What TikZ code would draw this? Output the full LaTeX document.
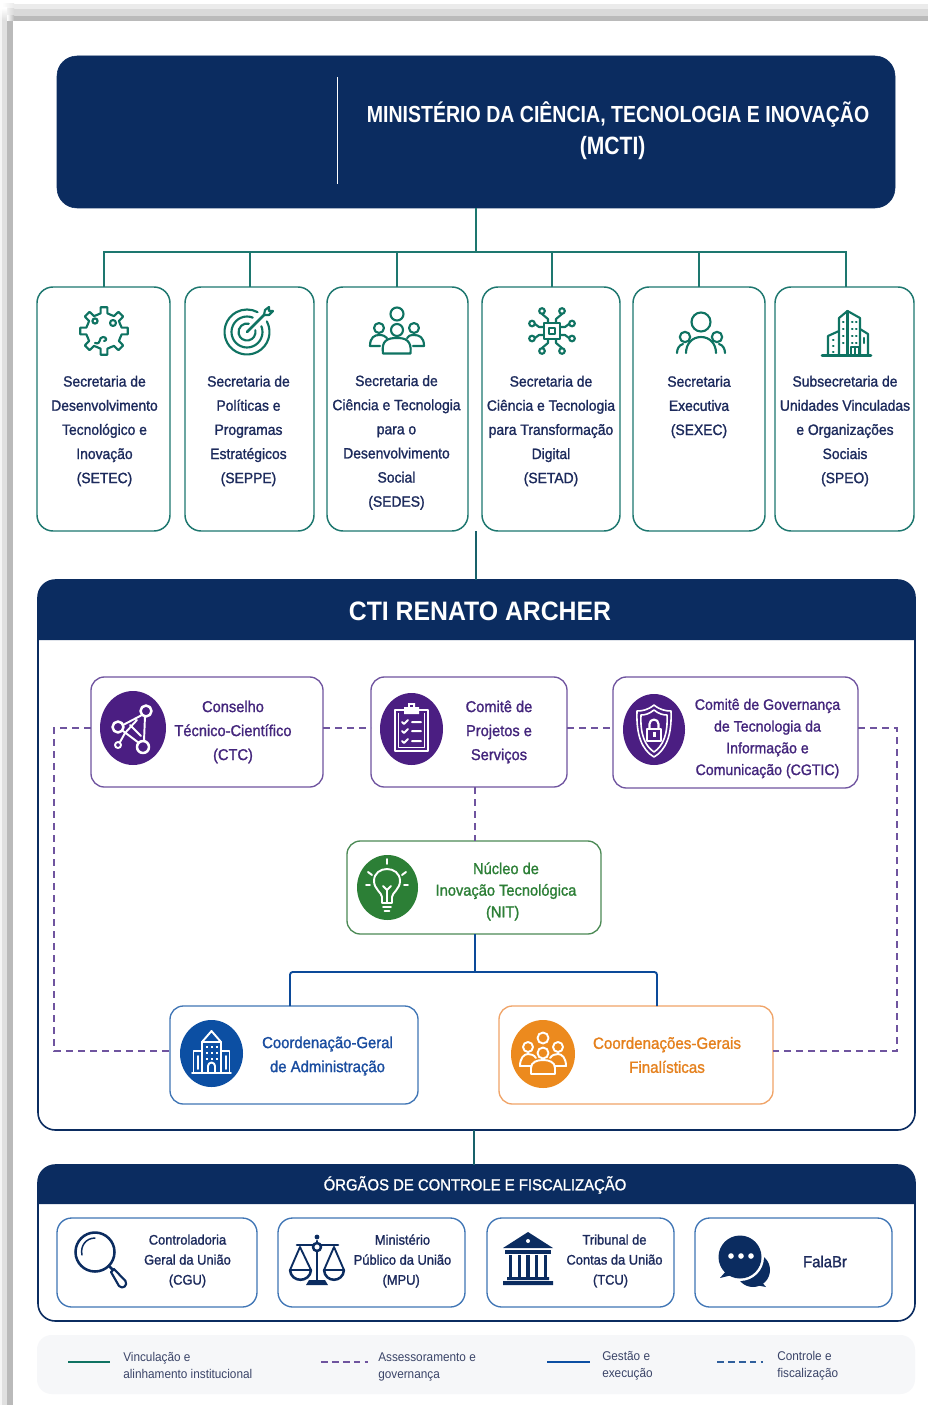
\documentclass[tikz,border=0pt]{standalone}
\usepackage{fontspec}
\setmainfont{Liberation Sans}
\newfontfamily\nrw[FakeStretch=0.93,FakeBold=1.3]{Liberation Sans}
\newfontfamily\lgf[FakeStretch=0.93]{Liberation Sans}
\newfontfamily\hdr[FakeStretch=0.84]{Liberation Sans}
\newfontfamily\ttl[FakeStretch=0.93]{Liberation Sans}
\usetikzlibrary{calc}
\definecolor{navy}{HTML}{0B2C60}
\definecolor{navyink}{HTML}{1C2A5C}
\definecolor{tealln}{HTML}{1D776F}
\definecolor{tealic}{HTML}{0F7362}
\definecolor{pur}{HTML}{4B1E82}
\definecolor{purbd}{HTML}{6F549F}
\definecolor{purtx}{HTML}{43257C}
\definecolor{grn}{HTML}{2C7F36}
\definecolor{grnbd}{HTML}{4C8A55}
\definecolor{blu}{HTML}{0C4FA3}
\definecolor{blubd}{HTML}{3F75B5}
\definecolor{blutx}{HTML}{1A4DA0}
\definecolor{org}{HTML}{EC8A1E}
\definecolor{orgbd}{HTML}{F0A468}
\definecolor{orgtx}{HTML}{E5801C}
\definecolor{leg}{HTML}{F6F7F9}
\definecolor{legtx}{HTML}{3A4468}
\tikzset{
  box/.style={draw,rounded corners=#1,inner sep=0pt,outer sep=0pt},
  box/.default=12pt,
  sec/.style={box=12pt,draw=tealln,line width=1.1pt},
  purbox/.style={box=10pt,draw=purbd,line width=1pt},
  grnbox/.style={box=10pt,draw=grnbd,line width=1pt},
  blubox/.style={box=10pt,draw=blubd,line width=1pt},
  orgbox/.style={box=10pt,draw=orgbd,line width=1pt},
  panel/.style={box=13pt,draw=navy,line width=1.2pt},
  ctlbox/.style={box=11pt,draw=blubd,line width=1pt},
  teal line/.style={draw=tealln,line width=1.5pt},
  dash line/.style={draw=purbd,line width=.8pt,dash pattern=on 5pt off 4pt},
  blue line/.style={draw=blu!85!navy,line width=1.4pt,rounded corners=2pt},
  sectx/.style={align=center,text=navyink,inner sep=0pt,font=\nrw\fontsize{11.2}{18.1}\selectfont},
  purtext/.style={align=center,text=purtx,inner sep=0pt,font=\nrw\fontsize{11.8}{18}\selectfont},
  cg/.style={align=center,text=purtx,inner sep=0pt,font=\nrw\fontsize{11.4}{16.3}\selectfont},
  grntext/.style={align=center,text=grn,inner sep=0pt,font=\nrw\fontsize{11.8}{16.2}\selectfont},
  blutext/.style={align=center,text=blutx,inner sep=0pt,font=\nrw\fontsize{12}{18}\selectfont},
  orgtext/.style={align=center,text=orgtx,inner sep=0pt,font=\nrw\fontsize{12.2}{18}\selectfont},
  ctltx/.style={align=center,text=navyink,inner sep=0pt,font=\nrw\fontsize{10.4}{15}\selectfont},
  legtext/.style={align=left,anchor=west,text=legtx,inner sep=0pt,font=\lgf\fontsize{9.5}{12.8}\selectfont},
  ti/.style={draw=tealic,line width=1.6pt,line cap=round,line join=round},
  wi/.style={draw=white,line width=1.45pt,line cap=round,line join=round},
  ni/.style={draw=navy,line width=1.9pt,line cap=round,line join=round},
}
\newcommand{\bx}[6]{\node[#6,minimum width={(#4-#2)*0.75pt},minimum height={(#5-#3)*0.75pt}] (#1) at ({(#2+#4)/2},{(#3+#5)/2}) {};}
\newcommand{\tx}[5]{\node[#4] (#1) at (#2,#3) {#5};}
\newcommand{\disc}[6]{\fill[#6] (#2,#3) ellipse [x radius=#4,y radius=#5]; \coordinate (#1) at (#2,#3);}
\begin{document}
\begin{tikzpicture}[x=0.75pt,y=-0.75pt]
\useasboundingbox (0,0) rectangle (928,1405);
\fill[white] (0,0) rectangle (928,1405);
% page shadow
\fill[black!8] (14,4) rectangle (928,9);
\fill[black!15] (14,9) rectangle (928,16);
\fill[black!27] (14,16) rectangle (928,21.5);
\shade[left color=white,right color=black!8] (2,4) rectangle (14,9);
\shade[left color=white,right color=black!15] (2,9) rectangle (14,16);
\shade[left color=white,right color=black!27] (7,16) rectangle (14,21.5);
\shade[top color=white,bottom color=black!4] (0,8) rectangle (2,20);
\fill[black!4] (0,20) rectangle (2,1405);
\shade[top color=white,bottom color=black!12] (2,8) rectangle (7,20);
\fill[black!12] (2,20) rectangle (7,1405);
\fill[black!27] (7,21.5) rectangle (13,1405);
\fill[white] (13,21.5) rectangle (928,1405);
% header
\bx{mcti}{57}{56}{895}{208}{box=15pt,fill=navy,draw=navy}
\draw[white,line width=1.1pt] (337.5,77) coordinate (sepa) -- (337.5,184) coordinate (sepb);
\tx{mctit}{618}{131}{align=center,text=white,inner sep=0pt,font=\hdr\bfseries\fontsize{17.45}{24}\selectfont}{MINISTÉRIO DA CIÊNCIA, TECNOLOGIA E INOVAÇÃO\\{\fontsize{18.8}{24}\selectfont (MCTI)}\hspace{8pt}\null}
% secretarias
\bx{s1}{37}{287}{170}{531}{sec}
\bx{s2}{185}{287}{314}{531}{sec}
\bx{s3}{327}{287}{468}{531}{sec}
\bx{s4}{482}{287}{620}{531}{sec}
\bx{s5}{633}{287}{765}{531}{sec}
\bx{s6}{775}{287}{914}{531}{sec}
\coordinate (bar) at (476,252);
\draw[teal line] (mcti.south) -- (bar);
\foreach \s/\d in {s1/.5,s2/.5,s3/-.5,s4/1,s5/0,s6/1.5} \draw[teal line] ($(\s.north)+(\d,0)$) |- (bar);
\tx{t1}{104.5}{431}{sectx}{Secretaria de\\Desenvolvimento\\Tecnológico e\\Inovação\\(SETEC)}
\tx{t2}{248.5}{431}{sectx}{Secretaria de\\Políticas e\\Programas\\Estratégicos\\(SEPPE)}
\tx{t3}{396.5}{442.5}{sectx}{Secretaria de\\Ciência e Tecnologia\\para o\\Desenvolvimento\\Social\\(SEDES)}
\tx{t4}{551}{431}{sectx}{Secretaria de\\Ciência e Tecnologia\\para Transformação\\Digital\\(SETAD)}
\tx{t5}{699}{407}{sectx}{Secretaria\\Executiva\\(SEXEC)}
\tx{t6}{845}{431}{sectx}{Subsecretaria de\\Unidades Vinculadas\\e Organizações\\Sociais\\(SPEO)}
% --- gear
\begin{scope}[shift={(104,331)},ti]
\foreach \a in {0,45,...,315}{
 \draw (\a-22.5:17.5) -- (\a-11:18) -- (\a-8:24) -- (\a+8:24) -- (\a+11:18) -- (\a+22.5:17.5);}
\draw (-9,-10) circle [radius=2.6] (9,-8) circle [radius=3];
\draw (-9,12) .. controls (-2,14) and (-6,6) .. (-1,6) .. controls (3,6) and (3,10) .. (0,10);
\end{scope}
% --- target
\begin{scope}[shift={(247,332)},ti]
\draw (-28:22.5) arc [start angle=-28,end angle=298,radius=22.5];
\draw (-22:15.5) arc [start angle=-22,end angle=292,radius=15.5];
\draw (-12:8.5) arc [start angle=-12,end angle=282,radius=8.5];
\draw[line width=1.9pt] (0,0) -- (17,-17);
\draw (17,-17) -- (18,-22) -- (22,-25) -- (22,-21) -- (26,-21) -- (22,-17) -- cycle;
\end{scope}
% --- SEDES group
\begin{scope}[ti]
\draw (397,314) circle [radius=6.5];
\draw (379,328) circle [radius=5] (414,328) circle [radius=5] (397,330) circle [radius=6];
\draw (383,353.5) -- (410.5,353.5) .. controls (412,340) and (405,338) .. (397,338) .. controls (388,338) and (381,340) .. (383,353.5);
\draw (380,346) -- (370,346) .. controls (370,337) and (375,335) .. (379,335) .. controls (383,335) and (385,336) .. (387,338);
\draw (413,346) -- (424,346) .. controls (424,337) and (419,335) .. (414,335) .. controls (410,335) and (408,336) .. (407,338);
\end{scope}
% --- chip
\begin{scope}[shift={(552,331)},ti]
\draw (-8,-8) rectangle (8,8);
\draw[line width=1.9pt] (-3,-3) rectangle (3,3);
\foreach \sx/\sy in {1/1,-1/1,1/-1,-1/-1}{
 \draw (\sx*4,\sy*8) -- (\sx*4,\sy*12) -- (\sx*10,\sy*17);
 \draw (\sx*10,\sy*20) circle [radius=2.8];
 \draw (\sx*8,\sy*4) -- (\sx*13,\sy*4) -- (\sx*17,\sy*7);
 \draw (\sx*20,\sy*7.5) circle [radius=2.8];}
\end{scope}
% --- SEXEC people
\begin{scope}[ti]
\draw (701,322) circle [radius=9.5];
\draw (685,337) circle [radius=5.2] (717,337) circle [radius=5.2];
\draw (686,353) .. controls (686,344) and (692,337) .. (701,337) .. controls (710,337) and (716,344) .. (716,353);
\draw (677,353) .. controls (677,349) and (679,345) .. (683,344);
\draw (725,353) .. controls (725,349) and (723,345) .. (719,344);
\end{scope}
% --- SPEO building
\begin{scope}[ti]
\draw[line width=1.9pt] (822,355.5) -- (871,355.5);
\draw (839,355) -- (839,318) -- (847.5,311) -- (860,318) -- (860,355);
\draw (847.5,311) -- (847.5,355);
\draw (839,331) -- (828,336) -- (828,355);
\draw (860,329) -- (868,334) -- (868,355);
\foreach \y in {322,329,336,343}{\draw (843,\y) -- (843.6,\y) (852,\y) -- (852.6,\y) (856,\y) -- (856.6,\y);}
\foreach \y in {340,346,352}{\draw (833,\y) -- (833.6,\y);}
\draw (851,355) -- (851,347) -- (859,347) -- (859,355) (855,347) -- (855,355);
\draw (864,338) -- (864,343);
\end{scope}
% CTI panel
\coordinate (rowb) at (476,531);
\bx{cti}{38}{580}{915}{1130}{panel}
\draw[teal line,draw=tealln!70!navy] (rowb) -- (rowb |- cti.north);
\fill[navy] (38,640) -- (38,597) arc [start angle=180,end angle=270,radius=17] -- (898,580) arc [start angle=270,end angle=360,radius=17] -- (915,640) -- cycle;
\tx{ctit}{480}{611}{text=white,inner sep=0pt,font=\ttl\bfseries\fontsize{20}{24}\selectfont}{CTI RENATO ARCHER}
% purple
\bx{ctc}{91}{677}{323}{787}{purbox}
\bx{cps}{371}{677}{567}{787}{purbox}
\bx{cgt}{613}{677}{858}{788}{purbox}
\disc{d1}{133}{728}{33}{37}{pur}
\disc{d2}{411.5}{729}{31.5}{36}{pur}
\disc{d3}{654}{729.5}{31}{35.5}{pur}
\tx{tc1}{233}{732}{purtext}{Conselho\hspace{10pt}\\Técnico-Científico\\(CTC)}
\tx{tc2}{499}{732}{purtext}{Comitê de\\Projetos e\\Serviços}
\tx{tc3}{767.5}{738.5}{cg}{Comitê de Governança\\de Tecnologia da\\Informação e\\Comunicação (CGTIC)}
% network icon
\begin{scope}[wi]
\draw[line width=1.9pt] (146,711) circle [radius=5.5] (118,727) circle [radius=5.5] (143,747) circle [radius=6];
\draw (118,745) circle [radius=3];
\draw (123,725) -- (142,715) (123,731) -- (139,743) (145,716) -- (144,741) (120,742) -- (125,733) (125,733) -- (137,720) (130,725) -- (141,736);
\end{scope}
% clipboard icon
\begin{scope}[wi]
\draw (404,710) -- (395,710) -- (395,751) -- (428,751) -- (428,710) -- (419,710);
\draw[line width=.9pt] (398.5,713.5) -- (398.5,747.5) -- (424.5,747.5) -- (424.5,713.5);
\fill[white] (404,707) -- (408,707) -- (408,703) -- (415,703) -- (415,707) -- (419,707) -- (419,714) -- (404,714) -- cycle;
\fill[pur] (410,704.5) rectangle (413,707);
\foreach \y in {722,731,741}{\draw[line width=1.5pt] (402,\y) -- (404,\y+2) -- (408,\y-2) (412,\y) -- (421,\y);}
\end{scope}
% shield icon
\begin{scope}[wi]
\draw[line width=1.2pt] (654,705) .. controls (660,710) and (666,711) .. (671,711) .. controls (672,735) and (666,750) .. (654,757) .. controls (642,750) and (636,735) .. (637,711) .. controls (642,711) and (648,710) .. (654,705) -- cycle;
\draw[line width=1.2pt] (654,710) .. controls (659,714) and (663,715) .. (667,715) .. controls (668,734) and (663,746) .. (654,752) .. controls (645,746) and (640,734) .. (641,715) .. controls (645,715) and (649,714) .. (654,710) -- cycle;
\draw[line width=1.6pt] (647,729) rectangle (661,741);
\draw[line width=1.6pt] (649.5,729) -- (649.5,724) arc [start angle=180,end angle=360,radius=4.5] -- (658.5,729);
\fill[white] (652.5,732) rectangle (655.5,737);
\end{scope}
% NIT
\bx{nit}{347}{841}{601}{934}{grnbox}
\disc{d4}{387.5}{887.5}{30.5}{32.5}{grn}
\tx{tn}{506}{891.5}{grntext}{Núcleo de\hspace{5pt}\\Inovação Tecnológica\\(NIT)\hspace{5pt}\null}
\begin{scope}[wi]
\draw (382,903) -- (382,897) .. controls (382,893) and (374,889) .. (374,881) .. controls (374,865) and (400,865) .. (400,881) .. controls (400,889) and (392,893) .. (392,897) -- (392,903) -- cycle;
\draw (383,907) -- (391,907) (384.5,911) -- (389.5,911);
\draw (387,902) -- (387,890) (383,886) -- (387,890) -- (391,886);
\draw (387,864) -- (387,859) (368,872) -- (372,875) (406,872) -- (402,875) (366,885) -- (370,885) (404,885) -- (408,885);
\end{scope}
% coordinations
\bx{adm}{170}{1006}{418}{1104}{blubox}
\bx{fin}{499}{1006}{773}{1104}{orgbox}
\coordinate (bl) at (475,972);
\draw[dash line] (475,787) coordinate (c0) -- (475,841) coordinate (c1);
\draw[blue line] (c1 |- nit.south) -- (bl);
\draw[blue line] (adm.north -| 290,0) |- (bl);
\draw[blue line] (fin.north -| 657,0) |- (bl);
\disc{d5}{211.5}{1053.5}{31.5}{33.5}{blu}
\disc{d6}{543}{1054}{32}{34}{org}
\tx{ta}{327.5}{1056}{blutext}{Coordenação-Geral\\de Administração}
\tx{tf}{667}{1055}{orgtext}{Coordenações-Gerais\\Finalísticas}
% building white
\begin{scope}[wi]
\draw (192,1073) -- (231,1073);
\draw (202,1072) -- (202,1042) -- (211.5,1031) -- (221,1042) -- (221,1072);
\draw (202,1042) -- (221,1042);
\draw (202,1051) -- (193.5,1051) -- (193.5,1072) (221,1051) -- (229.5,1051) -- (229.5,1072);
\foreach \x in {207,212,217}{\foreach \y in {1047,1053,1059}{\fill[white] (\x-1.4,\y-1.4) rectangle (\x+1.4,\y+1.4);}}
\draw (198,1056) -- (198,1069) (226,1056) -- (226,1069);
\draw (208,1072) -- (208,1066) arc [start angle=180,end angle=360,radius=3.5] -- (215,1072);
\end{scope}
% group white
\begin{scope}[wi]
\draw (543,1038) circle [radius=5.5] (528,1047) circle [radius=5] (558,1047) circle [radius=5] (543,1053) circle [radius=5.5];
\draw (531,1074) -- (555,1074) -- (555,1068) .. controls (555,1062) and (549,1060) .. (543,1060) .. controls (537,1060) and (531,1062) .. (531,1068) -- cycle;
\draw (531,1066) -- (520,1066) .. controls (520,1058) and (524,1054) .. (528,1054) .. controls (531,1054) and (534,1055) .. (536,1058);
\draw (555,1066) -- (566,1066) .. controls (566,1058) and (562,1054) .. (558,1054) .. controls (555,1054) and (552,1055) .. (550,1058);
\end{scope}
% dashed advisory lines
\coordinate (dl) at (54,728);
\coordinate (dr) at (897,728);
\coordinate (dlb) at (54,1051);
\coordinate (drb) at (897,1051);
\draw[dash line] (ctc.east |- dl) -- (cps.west |- dl);
\draw[dash line] (cps.east |- dl) -- (cgt.west |- dl);
\draw[dash line] (ctc.west |- dl) -- (dl) -- (dlb) -- (adm.west |- dlb);
\draw[dash line] (cgt.east |- dr) -- (dr) -- (drb) -- (fin.east |- drb);
% Control panel
\bx{org}{38}{1165}{915}{1321}{panel}
\draw[teal line,draw=tealln!70!navy] (474,1130) coordinate (cc) -- (cc |- org.north);
\fill[navy] (38,1204) -- (38,1182) arc [start angle=180,end angle=270,radius=17] -- (898,1165) arc [start angle=270,end angle=360,radius=17] -- (915,1204) -- cycle;
\tx{ort}{475}{1185}{text=white,inner sep=0pt,font=\nrw\fontsize{12}{16}\selectfont}{ÓRGÃOS DE CONTROLE E FISCALIZAÇÃO}
\bx{c1b}{57}{1218}{257}{1307}{ctlbox}
\bx{c2b}{278}{1218}{465}{1307}{ctlbox}
\bx{c3b}{487}{1218}{674}{1307}{ctlbox}
\bx{c4b}{695}{1218}{892}{1307}{ctlbox}
\tx{tcg}{187.5}{1261}{ctltx}{Controladoria\\Geral da União\\(CGU)}
\tx{tmp}{402.5}{1261}{ctltx}{Ministério\hspace{11pt}\\Público da União\\(MPU)\hspace{2pt}\null}
\tx{ttc}{614.5}{1261}{ctltx}{Tribunal de\hspace{7pt}\\Contas da União\\(TCU)\hspace{6pt}\null}
\tx{tfb}{825}{1261.5}{ctltx,font=\nrw\fontsize{12}{15}\selectfont}{FalaBr}
% magnifier
\begin{scope}[ni]
\draw (95,1252) circle [radius=19.5];
\draw[line width=1.1pt] (82,1255) .. controls (80,1246) and (86,1238) .. (95,1238);
\draw (109,1266) -- (113,1270);
\draw[line width=1.6pt] (111,1272) -- (114,1269) -- (125.5,1281) .. controls (128,1285) and (123,1290) .. (119,1286) -- cycle;
\end{scope}
% scales
\begin{scope}[ni]
\draw (317,1241) -- (317,1282);
\fill[navy] (317,1237) circle [radius=2.4];
\fill[white] (317,1247) circle [radius=4];
\draw (317,1247) circle [radius=4];
\draw (297,1245) -- (313,1245) (321,1245) -- (338,1245);
\draw[line width=1.4pt] (300,1247) -- (290,1270) -- (311,1270) -- cycle;
\draw[line width=1.4pt] (334,1247) -- (324,1270) -- (344,1270) -- cycle;
\draw (290,1270) .. controls (291,1283) and (310,1283) .. (311,1270);
\draw (324,1270) .. controls (325,1283) and (343,1283) .. (344,1270);
\fill[navy] (306,1285) -- (309,1280) -- (325,1280) -- (328,1285) -- cycle;
\end{scope}
% temple
\begin{scope}
\fill[navy] (528,1232) -- (553,1248) -- (503,1248) -- cycle;
\fill[white] (528,1241) circle [radius=2];
\fill[navy] (505,1250) rectangle (551,1254);
\fill[navy] (503,1281) rectangle (553,1285) (507,1277) rectangle (549,1280);
\foreach \x in {508.5,517.5,526.3,535,544}{\fill[navy] (\x,1255) rectangle (\x+3.4,1277);}
\end{scope}
% chat
\begin{scope}
\fill[navy] (753,1270) circle [radius=17];
\fill[navy] (760,1280) -- (766,1287) -- (750,1284) -- cycle;
\fill[white] (740,1257) circle [radius=24];
\fill[navy] (740,1257) circle [radius=21.5];
\fill[navy] (727,1270) -- (720,1278) -- (736,1274) -- cycle;
\foreach \x in {731,741,751}{\fill[white] (\x,1256) circle [radius=2.8];}
\end{scope}
% legend
\bx{lg}{37}{1335}{915}{1394}{box=11pt,fill=leg,draw=none}
\coordinate (la) at (68,1362); \coordinate (lb) at (110,1362);
\coordinate (lc) at (321,1362); \coordinate (ld) at (368,1362);
\coordinate (le) at (547,1362); \coordinate (lf) at (590,1362);
\coordinate (lg1) at (717,1362); \coordinate (lh) at (763,1362);
\draw[tealic,line width=1.6pt] (la) -- (lb);
\draw[purbd,line width=1pt,dash pattern=on 5pt off 3.2pt] (lc) -- (ld);
\draw[blu,line width=1.6pt] (le) -- (lf);
\draw[blubd!70!navy,line width=1pt,dash pattern=on 5pt off 3.2pt] (lg1) -- (lh);
\tx{l1}{123}{1365.5}{legtext}{Vinculação e\\alinhamento institucional}
\tx{l2}{378}{1367}{legtext}{Assessoramento e\\governança}
\tx{l3}{602}{1366}{legtext}{Gestão e\\execução}
\tx{l4}{777}{1366}{legtext}{Controle e\\fiscalização}
\end{tikzpicture}
\end{document}
